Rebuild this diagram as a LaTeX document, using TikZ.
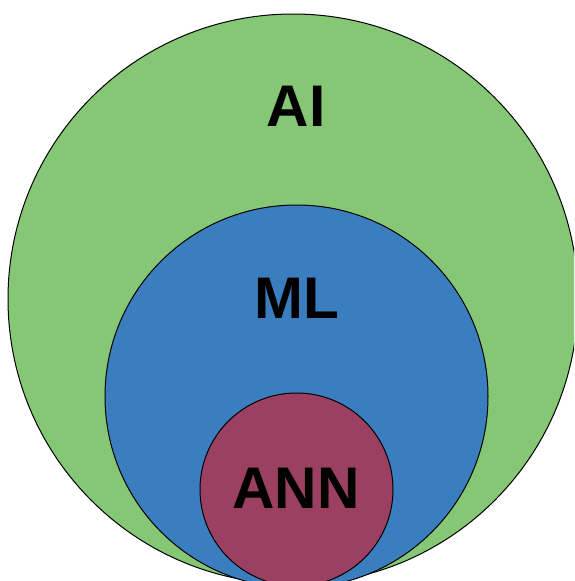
\documentclass[tikz,border=0pt]{standalone}
\usepackage{fontspec}
\setmainfont{Liberation Sans}
\definecolor{aigreen}{RGB}{134,199,117}
\definecolor{mlblue}{RGB}{59,126,192}
\definecolor{annred}{RGB}{155,64,96}
\begin{document}
\begin{tikzpicture}[x=1pt,y=-1pt,
  setcircle/.style={circle, draw=black, line width=1pt, inner sep=0pt, outer sep=0pt},
  setlabel/.style={font=\fontsize{58.7}{60}\selectfont\bfseries, text=black, inner sep=0pt, anchor=center}]
\useasboundingbox (0,0) rectangle (574,581);
\clip (0,0) rectangle (574,581);
\node[setcircle, fill=aigreen, minimum size=570pt] (ai) at (293,299) {};
\node[setcircle, fill=mlblue, minimum size=383pt] (ml) at (296.5,396.5) {};
\node[setcircle, fill=annred, minimum size=193pt] (ann) at (296.5,489.5) {};
\node[setlabel] (ailabel) at (296,106) {AI};
\node[setlabel] (mllabel) at (296.5,298) {ML};
\node[setlabel] (annlabel) at (296,488) {ANN};
\end{tikzpicture}
\end{document}
